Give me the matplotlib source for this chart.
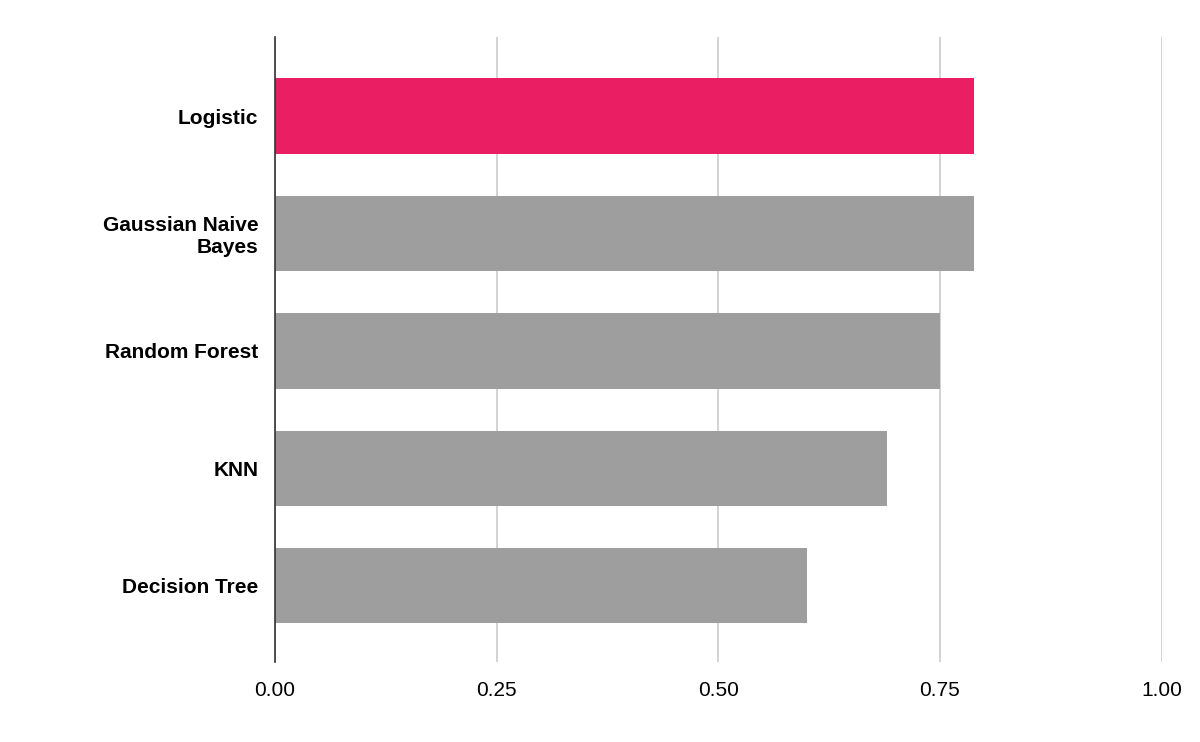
import matplotlib

matplotlib.use("Agg")
import matplotlib.pyplot as plt

models = ["Logistic", "Gaussian Naive\nBayes", "Random Forest", "KNN", "Decision Tree"]
scores = [0.789, 0.789, 0.75, 0.69, 0.60]
colors = ["#e91e63", "#9e9e9e", "#9e9e9e", "#9e9e9e", "#9e9e9e"]
xticks = [0.0, 0.25, 0.5, 0.75, 1.0]
xtick_labels = ["0.00", "0.25", "0.50", "0.75", "1.00"]

plt.rcParams["font.family"] = "Liberation Sans"

fig = plt.figure(figsize=(12, 7.42), dpi=100)
ax = fig.add_axes([0.229, 0.108, 0.739, 0.842])

pos = list(range(len(models)))
ax.barh(pos, scores, height=0.64, color=colors, zorder=3)
ax.set_ylim(4.647, -0.672)
ax.set_xlim(0, 1.0)
ax.set_xticks(xticks)
ax.set_xticklabels(xtick_labels, fontsize=15)
ax.set_yticks(pos)
ax.set_yticklabels(models, fontsize=15, fontweight="bold")
ax.grid(axis="x", color="#cccccc", linewidth=1.2, zorder=0)
for s in ["top", "right", "bottom"]:
    ax.spines[s].set_visible(False)
ax.spines["left"].set_color("#333333")
ax.spines["left"].set_linewidth(1.2)
ax.spines["left"].set_zorder(4)
ax.tick_params(length=0, pad=12)
ax.tick_params(axis="x", pad=14)

fig.savefig("out.png", dpi=100)
